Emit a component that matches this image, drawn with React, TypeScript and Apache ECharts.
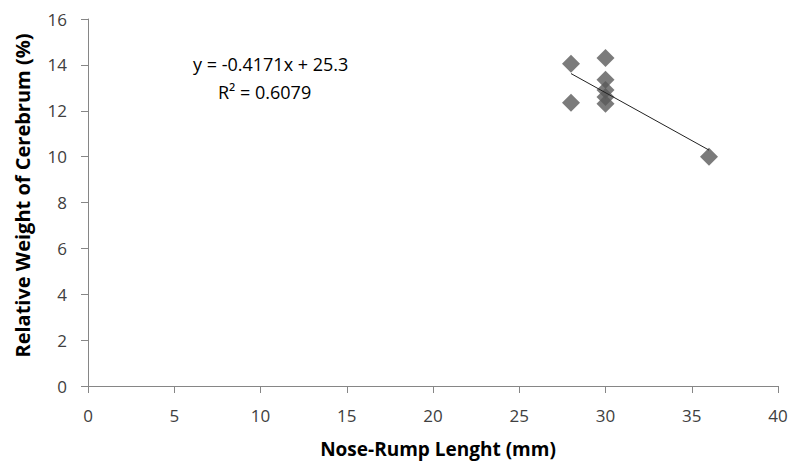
import React, { useEffect, useRef } from "react";
import * as echarts from "echarts";

const xValues = [28, 28, 30, 30, 30, 30, 30, 36];
const yValues = [14.05, 12.35, 14.3, 13.35, 12.9, 12.6, 12.3, 10.0];
const slope = -0.4171;
const intercept = 25.3;
const trendX = [28, 36];
const equationText = "y = -0.4171x + 25.3";
const r2Text = "R² = 0.6079";
const xTitle = "Nose-Rump Lenght (mm)";
const yTitle = "Relative Weight of Cerebrum (%)";

const FONT = "'Open Sans', 'Liberation Sans', sans-serif";

export default function App() {
  const ref = useRef<HTMLDivElement>(null);
  useEffect(() => {
    document.body.style.margin = "0";
    if (!ref.current) return;
    const chart = echarts.init(ref.current, null, { renderer: "svg" });
    const points = xValues.map((x, i) => [x, yValues[i]]);
    const trend = trendX.map((x) => [x, slope * x + intercept]);
    chart.setOption({
      animation: false,
      grid: { left: 88, right: 14, top: 19, bottom: 80, outerBoundsMode: "none", containLabel: false },
      xAxis: {
        type: "value",
        min: 0,
        max: 40,
        interval: 5,
        name: xTitle,
        nameLocation: "middle",
        nameGap: 53,
        nameTextStyle: { fontFamily: FONT, fontSize: 19, fontWeight: "bold", color: "#000", padding: [0, 0, 0, 10] },
        axisLine: { show: true, lineStyle: { color: "#868686", width: 1 } },
        axisTick: { show: true, length: 7, lineStyle: { color: "#868686" } },
        axisLabel: { fontFamily: FONT, fontSize: 17, color: "#404040", margin: 21 },
        splitLine: { show: false },
      },
      yAxis: {
        type: "value",
        min: 0,
        max: 16,
        interval: 2,
        name: yTitle,
        nameLocation: "middle",
        nameGap: 56,
        nameTextStyle: { fontFamily: FONT, fontSize: 20, fontWeight: "bold", color: "#000", padding: [0, 0, 0, 14] },
        axisLine: { show: true, lineStyle: { color: "#868686", width: 1 } },
        axisTick: { show: true, length: 7, lineStyle: { color: "#868686" } },
        axisLabel: { fontFamily: FONT, fontSize: 17, color: "#404040", margin: 21 },
        splitLine: { show: false },
      },
      series: [
        {
          type: "scatter",
          data: points,
          symbol: "diamond",
          symbolSize: [18, 18],
          itemStyle: { color: "#5a5a5a" },
          z: 2,
        },
        {
          type: "line",
          data: trend,
          symbol: "none",
          lineStyle: { color: "#222", width: 1 },
          z: 3,
        },
      ],
      graphic: [
        {
          type: "text",
          left: 193,
          top: 55,
          style: { text: equationText, fontFamily: FONT, fontSize: 18, fill: "#000" },
        },
        {
          type: "text",
          left: 218,
          top: 83,
          style: { text: r2Text, fontFamily: FONT, fontSize: 18, fill: "#000" },
        },
      ],
    });
    return () => chart.dispose();
  }, []);
  return <div ref={ref} style={{ width: 792, height: 466 }} />;
}
